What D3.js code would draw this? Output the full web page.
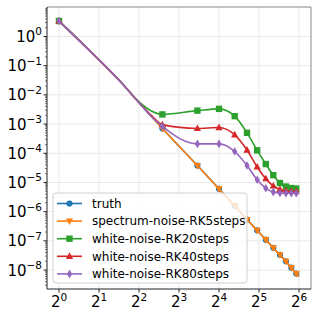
<!DOCTYPE html>
<html>
<head>
<meta charset="utf-8">
<script src="https://cdn.jsdelivr.net/npm/d3@7"></script>
<style>
  body { margin: 0; background: #fff; }
  svg { font-family: "DejaVu Sans", sans-serif; }
</style>
</head>
<body>
<svg width="319" height="319"></svg>
<script>
// wavenumbers (markers drawn on every 5th, k = 1, 6, 11, ...)
const ks = [1, 2, 3, 4, 5, 6, 11, 16, 21, 26, 31, 36, 41, 46, 51, 56, 61, 64];
const markerKs = [1, 6, 11, 16, 21, 26, 31, 36, 41, 46, 51, 56, 61];

// log10 of the spectrum
const truth =    [0.53, -0.80, -1.62, -2.26, -2.76, -3.15, -4.42, -5.22, -5.80, -6.27, -6.64, -6.96, -7.24, -7.48, -7.70, -7.92, -8.12, -8.22];
const spectrum = [0.53, -0.80, -1.62, -2.26, -2.76, -3.15, -4.42, -5.22, -5.80, -6.27, -6.64, -6.96, -7.24, -7.48, -7.70, -7.92, -8.12, -8.22];
const rk20 =     [0.53, -0.80, -1.62, -2.24, -2.56, -2.67, -2.54, -2.48, -2.73, -3.30, -3.90, -4.37, -4.75, -5.02, -5.14, -5.19, -5.21, -5.21];
const rk40 =     [0.53, -0.80, -1.62, -2.27, -2.72, -3.02, -3.15, -3.12, -3.37, -3.89, -4.47, -4.87, -5.12, -5.24, -5.29, -5.31, -5.31, -5.31];
const rk80 =     [0.53, -0.80, -1.62, -2.27, -2.76, -3.08, -3.68, -3.68, -3.94, -4.42, -4.91, -5.20, -5.33, -5.36, -5.37, -5.37, -5.37, -5.37];

const seriesNames = ["truth", "spectrum-noise-RK5steps", "white-noise-RK20steps", "white-noise-RK40steps", "white-noise-RK80steps"];
const seriesValues = [truth, spectrum, rk20, rk40, rk80];
const COLORS = ["#1f77b4", "#ff7f0e", "#2ca02c", "#d62728", "#9467bd"];
const SYMBOLS = ["circle", "triDown", "square", "triUp", "diamond"];

const xTicks = [0, 1, 2, 3, 4, 5, 6];          // powers of 2
const yTicks = [0, -1, -2, -3, -4, -5, -6, -7, -8]; // powers of 10

let svg = d3.select("svg");
const plot = { left: 47, right: 311, top: 7, bottom: 289 };

let x = d3.scaleLog().base(2)
  .domain([Math.pow(2, -0.3), Math.pow(2, 6.3)])
  .range([plot.left, plot.right]);
let y = d3.scaleLog()
  .domain([Math.pow(10, 1.01), Math.pow(10, -8.65)])
  .range([plot.top, plot.bottom]);

// grid
svg.append("g").selectAll("line")
  .data(xTicks).enter().append("line")
  .attr("x1", d => x(Math.pow(2, d))).attr("x2", d => x(Math.pow(2, d)))
  .attr("y1", plot.top).attr("y2", plot.bottom)
  .attr("stroke", "#e8e8e8").attr("stroke-width", 1);
svg.append("g").selectAll("line")
  .data(yTicks).enter().append("line")
  .attr("y1", d => y(Math.pow(10, d))).attr("y2", d => y(Math.pow(10, d)))
  .attr("x1", plot.left).attr("x2", plot.right)
  .attr("stroke", "#e8e8e8").attr("stroke-width", 1);

// lines + markers
const line = d3.line()
  .x(d => x(d.k))
  .y(d => y(Math.pow(10, d.v)))
  .curve(d3.curveMonotoneX);

function markerPath(sym) {
  switch (sym) {
    case "circle": return d3.symbol(d3.symbolCircle, 30)();
    case "square": return "M-3.2,-3.2H3.2V3.2H-3.2Z";
    case "triUp": return "M0,-4L3.6,2.6H-3.6Z";
    case "triDown": return "M0,4L3.6,-2.6H-3.6Z";
    case "diamond": return "M0,-4.3L2.6,0L0,4.3L-2.6,0Z";
  }
}

seriesValues.forEach((vals, i) => {
  const pts = ks.map((k, j) => ({ k: k, v: vals[j] }));
  const g = svg.append("g");
  g.append("path")
    .attr("d", line(pts))
    .attr("fill", "none")
    .attr("stroke", COLORS[i])
    .attr("stroke-width", 1.6);
  g.selectAll("path.m")
    .data(pts.filter(p => markerKs.includes(p.k)))
    .enter().append("path")
    .attr("class", "m")
    .attr("d", markerPath(SYMBOLS[i]))
    .attr("transform", d => `translate(${x(d.k)},${y(Math.pow(10, d.v))})`)
    .attr("fill", COLORS[i]);
});

// spines
svg.append("line").attr("x1", plot.left).attr("x2", plot.right).attr("y1", plot.top).attr("y2", plot.top).attr("stroke", "#888");
svg.append("line").attr("x1", plot.right).attr("x2", plot.right).attr("y1", plot.top).attr("y2", plot.bottom).attr("stroke", "#888");
svg.append("line").attr("x1", plot.left).attr("x2", plot.left).attr("y1", plot.top).attr("y2", plot.bottom).attr("stroke", "#222");
svg.append("line").attr("x1", plot.left).attr("x2", plot.right).attr("y1", plot.bottom).attr("y2", plot.bottom).attr("stroke", "#222");

// y ticks (major + minor)
const yAxis = svg.append("g");
yTicks.forEach(e => {
  const yy = y(Math.pow(10, e));
  yAxis.append("line").attr("x1", plot.left - 3.5).attr("x2", plot.left).attr("y1", yy).attr("y2", yy).attr("stroke", "#222");
  const t = yAxis.append("text")
    .attr("x", 42).attr("y", yy + 5.5)
    .attr("text-anchor", "end")
    .attr("font-size", 15).attr("fill", "#000");
  t.append("tspan").text("10");
  t.append("tspan").attr("dy", -6.5).attr("font-size", 10.5).text(e === 0 ? "0" : "\u2212" + (-e));
});
for (let e = -9; e <= 1; e++) {
  for (let m = 2; m <= 9; m++) {
    const v = m * Math.pow(10, e);
    const yy = y(v);
    if (yy < plot.top || yy > plot.bottom) continue;
    yAxis.append("line").attr("x1", plot.left - 2).attr("x2", plot.left).attr("y1", yy).attr("y2", yy).attr("stroke", "#222").attr("stroke-width", 0.6);
  }
}

// x ticks
const xAxis = svg.append("g");
xTicks.forEach(e => {
  const xx = x(Math.pow(2, e));
  xAxis.append("line").attr("x1", xx).attr("x2", xx).attr("y1", plot.bottom).attr("y2", plot.bottom + 3.5).attr("stroke", "#222");
  const t = xAxis.append("text")
    .attr("x", xx).attr("y", 307)
    .attr("text-anchor", "middle")
    .attr("font-size", 15).attr("fill", "#000");
  t.append("tspan").text("2");
  t.append("tspan").attr("dy", -6.5).attr("font-size", 10.5).text(e);
});

// legend
const legend = svg.append("g");
legend.append("rect")
  .attr("x", 53).attr("y", 193).attr("width", 194).attr("height", 90)
  .attr("rx", 3)
  .attr("fill", "white").attr("fill-opacity", 0.8)
  .attr("stroke", "#d0d0d0");
seriesNames.forEach((name, i) => {
  const ly = 203.5 + i * 17.6;
  legend.append("line").attr("x1", 57).attr("x2", 82).attr("y1", ly).attr("y2", ly)
    .attr("stroke", COLORS[i]).attr("stroke-width", 1.6);
  legend.append("path").attr("d", markerPath(SYMBOLS[i]))
    .attr("transform", `translate(69.5,${ly})`).attr("fill", COLORS[i]);
  legend.append("text").attr("x", 92).attr("y", ly + 4.3)
    .attr("font-size", 12).attr("fill", "#000").text(name);
});
</script>
</body>
</html>
